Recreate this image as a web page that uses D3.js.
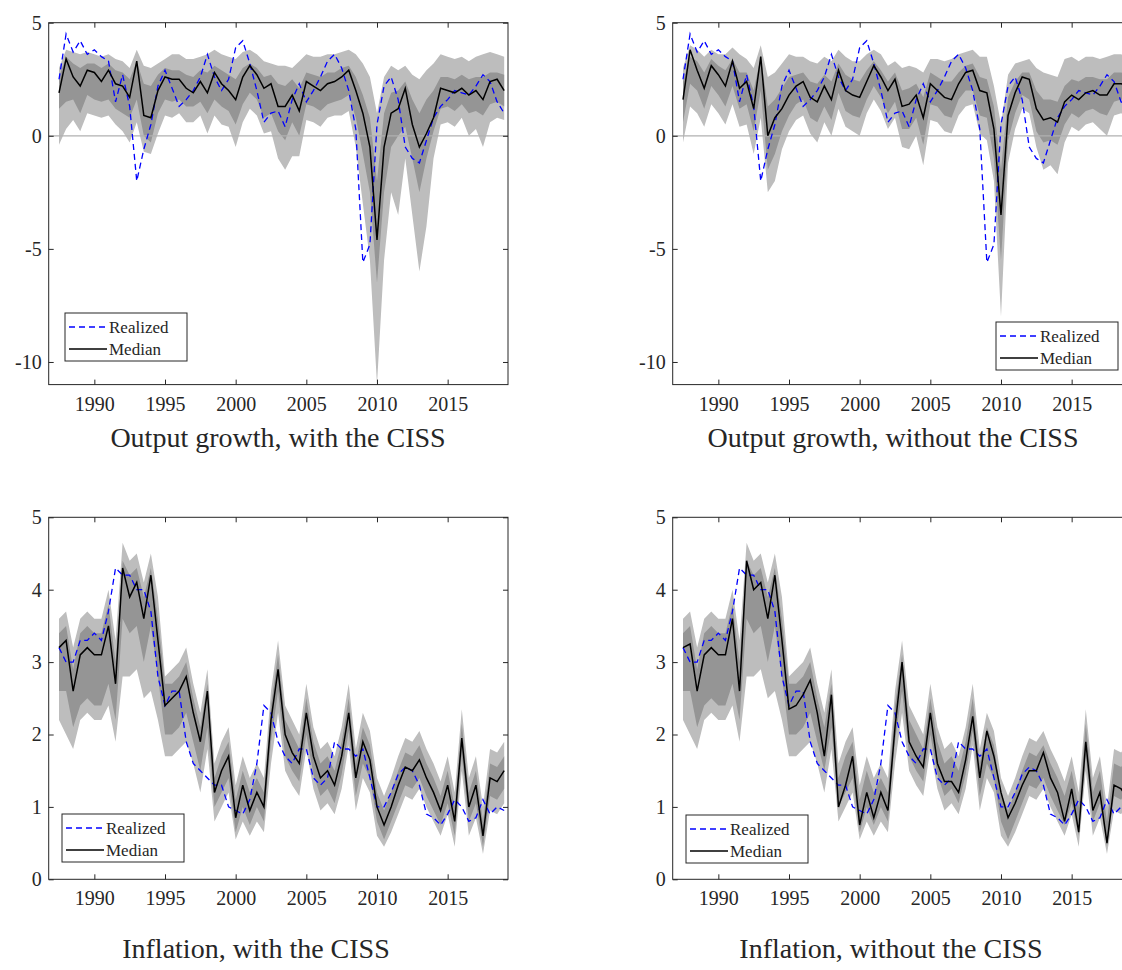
<!DOCTYPE html>
<html>
<head>
<meta charset="utf-8">
<script src="https://cdn.jsdelivr.net/npm/d3@7"></script>
<style>
  body { margin: 0; background: #fff; }
  svg { display: block; }
  text { font-family: "Liberation Serif", "Times New Roman", serif; fill: #262626; }
  .tick text { font-family: "Liberation Serif", serif !important; font-size: 20px !important; }
</style>
</head>
<body>
<svg id="chart" width="1122" height="970"></svg>
<script>
"use strict";

// ---- data (half-yearly, starting 1987.5) ----
const startYear = 1987.5;
const xTicks = [1990, 1995, 2000, 2005, 2010, 2015];

const gdpRealized = [2.5,4.5,3.7,4.2,3.6,3.8,3.5,3.3,1.5,2.7, 1.3,-2.0,-0.6,0.5,2.2,2.9,2.1,1.3,1.6,2.0,
  2.6,3.6,2.6,2.0,2.5,3.9,4.2,3.2,2.0,0.6, 1.0,1.1,0.4,1.6,2.3,1.5,2.0,2.6,3.3,3.6,
  3.0,2.0,0.3,-5.6,-4.8,0.5,2.2,2.6,1.6,-0.5, -1.0,-1.2,-0.2,0.8,1.3,1.6,2.0,1.9,1.8,2.2, 2.7,2.4,1.5,1.0];

const gdpMedianCiss = [1.9,3.4,2.6,2.2,2.9,2.8,2.4,2.9,2.3,2.2, 1.7,3.3,0.9,0.8,2.0,2.6,2.5,2.5,2.1,1.9,
  2.4,1.9,2.8,2.3,2.0,1.6,2.6,3.1,2.7,2.1, 2.3,1.3,1.3,1.8,1.1,2.4,2.2,2.0,2.3,2.4,
  2.6,2.9,2.0,1.0,-0.5,-4.6,-0.5,1.0,1.2,2.1, 0.5,-0.5,0.1,0.8,2.1,2.0,1.9,2.1,1.8,2.0, 1.6,2.4,2.5,2.0];
const gdpOuterHiCiss = [3.0,3.8,3.7,3.6,3.7,3.6,3.5,3.6,3.4,3.3, 3.0,3.8,3.1,3.0,3.2,3.4,3.6,3.6,3.4,3.4,
  3.5,3.6,3.8,3.6,3.5,3.4,3.7,3.8,3.6,3.3, 3.2,3.1,3.1,3.0,3.3,3.6,3.5,3.5,3.6,3.6,
  3.7,3.8,3.6,3.2,2.6,1.0,2.6,3.1,2.9,3.1, 2.7,2.5,2.9,3.2,3.6,3.5,3.4,3.5,3.3,3.5, 3.6,3.7,3.6,3.5];
const gdpInnerHiCiss = [2.6,3.5,3.2,3.0,3.2,3.2,3.0,3.2,2.9,2.8, 2.5,3.3,2.3,2.2,2.7,3.0,2.9,2.9,2.7,2.6,
  2.9,2.8,3.1,2.9,2.7,2.5,3.0,3.2,3.0,2.6, 2.7,2.3,2.2,2.5,2.1,2.8,2.7,2.6,2.8,2.8,
  3.0,3.1,2.6,1.8,0.8,-2.0,1.0,1.9,2.0,2.4, 1.6,1.0,1.6,2.0,2.6,2.6,2.5,2.7,2.5,2.6, 2.6,2.8,2.8,2.7];
const gdpInnerLoCiss = [1.2,1.5,1.6,1.0,1.8,1.6,1.5,1.6,1.2,1.0, 0.8,1.6,0.0,-0.3,1.0,1.6,1.5,1.6,1.3,1.3,
  1.5,1.0,1.6,1.3,1.1,0.5,1.4,1.9,1.6,0.8, 1.0,0.2,-0.2,0.6,0.0,1.4,1.3,1.1,1.4,1.5,
  1.6,1.8,0.8,-0.8,-2.5,-6.5,-2.5,-0.5,0.0,0.4, -1.0,-2.5,-1.0,0.2,1.2,1.3,1.1,1.4,1.0,1.1, 0.9,1.4,1.5,1.3];
const gdpOuterLoCiss = [-0.4,0.3,0.7,0.2,1.0,0.9,0.8,0.9,0.5,0.2, -0.3,0.6,-0.7,-0.8,0.1,0.9,0.8,1.0,0.6,0.6,
  0.9,0.1,0.9,0.5,0.4,-0.5,0.6,1.2,0.9,0.1, 0.2,-1.0,-1.5,-0.9,-0.9,0.7,0.6,0.4,0.8,0.9,
  0.9,1.1,-0.5,-3.0,-5.5,-11.0,-5.5,-2.5,-3.5,-1.0, -3.5,-6.0,-4.0,-1.0,0.5,0.6,0.4,0.8,0.0,0.3, -0.5,0.6,0.8,0.7];

const gdpMedianNo = [1.6,3.8,2.9,2.1,3.1,2.7,2.2,3.3,2.1,2.4, 1.2,3.5,0.0,0.8,1.2,1.8,2.2,2.4,1.7,1.5,
  2.2,1.6,2.9,2.0,1.8,1.7,2.4,3.1,2.6,2.0, 2.5,1.3,1.4,1.8,0.8,2.3,2.0,1.7,1.6,2.3,
  2.8,2.9,2.0,1.9,0.3,-3.5,0.9,1.9,2.6,2.5, 1.2,0.7,0.8,0.6,1.5,1.8,1.6,1.9,2.0,1.8, 1.8,2.3,2.3,2.2];
const gdpOuterHiNo = [3.0,4.0,3.8,3.5,3.8,3.6,3.6,3.9,3.6,3.4, 3.0,4.0,2.6,2.8,3.2,3.6,3.5,3.5,3.3,3.2,
  3.5,3.3,3.8,3.5,3.3,3.3,3.6,3.8,3.6,3.1, 3.3,3.0,3.1,3.0,2.8,3.4,3.4,3.3,3.4,3.6,
  3.7,3.8,3.5,3.5,2.2,0.5,2.7,3.2,3.3,3.4, 3.0,2.8,2.7,2.6,3.4,3.5,3.3,3.5,3.5,3.4, 3.5,3.6,3.6,3.5];
const gdpInnerHiNo = [2.4,3.5,3.3,2.8,3.4,3.1,2.9,3.4,2.8,2.8, 2.0,3.5,1.3,1.6,2.1,2.6,2.7,2.8,2.4,2.3,
  2.7,2.4,3.2,2.7,2.5,2.4,2.9,3.3,2.9,2.4, 2.8,2.0,2.1,2.3,1.7,2.8,2.6,2.4,2.4,2.8,
  3.1,3.2,2.6,2.5,1.3,-1.5,1.7,2.4,2.8,2.8, 2.0,1.6,1.6,1.5,2.2,2.5,2.4,2.6,2.6,2.5, 2.5,2.8,2.8,2.7];
const gdpInnerLoNo = [0.6,2.3,2.0,1.2,2.2,1.8,1.3,2.2,1.2,1.4, 0.2,2.0,-1.5,-0.8,0.2,0.9,1.4,1.6,0.8,0.6,
  1.3,0.7,1.9,1.1,0.9,0.8,1.6,2.2,1.7,1.0, 1.5,0.3,0.3,0.8,-0.4,1.4,1.3,0.9,0.8,1.6,
  2.0,2.0,0.9,0.8,-1.0,-5.5,-0.2,1.0,1.8,1.6, 0.2,-0.3,-0.2,-0.4,0.5,1.0,0.8,1.1,1.2,1.0, 0.9,1.5,1.6,1.5];
const gdpOuterLoNo = [-0.3,1.3,1.0,0.4,1.4,1.0,0.5,1.4,0.4,0.5, -0.8,0.8,-2.5,-2.0,-0.6,0.2,0.7,0.9,0.1,-0.3,
  0.6,0.0,1.2,0.4,0.2,0.0,1.0,1.6,1.1,0.3, 0.8,-0.5,-0.6,0.0,-1.3,0.7,0.6,0.2,0.1,0.9,
  1.3,1.4,0.1,-0.2,-2.0,-8.0,-1.2,0.3,1.2,1.0, -0.5,-1.5,-1.3,-1.7,-0.3,0.4,0.2,0.5,0.6,0.3, 0.0,0.9,1.0,0.8];

const infRealized = [3.2,3.0,3.0,3.3,3.3,3.4,3.3,3.7,4.3,4.2, 4.2,4.0,4.0,3.7,2.8,2.4,2.6,2.6,1.9,1.6,
  1.5,1.4,1.3,1.3,1.0,0.95,0.9,1.1,1.6,2.4, 2.3,1.9,1.7,1.6,1.8,1.8,1.4,1.3,1.4,1.9,
  1.8,1.8,1.7,1.8,1.4,1.0,1.0,1.2,1.45,1.55, 1.5,1.3,0.9,0.85,0.75,0.9,1.1,1.0,0.8,0.85, 1.1,0.9,1.0,0.95];

const infMedianCiss = [3.2,3.3,2.6,3.1,3.2,3.1,3.1,3.5,2.7,4.3, 3.9,4.1,3.6,4.2,3.3,2.4,2.5,2.6,2.8,2.3,
  1.9,2.6,1.2,1.5,1.7,0.85,1.3,0.95,1.2,1.0, 2.2,2.9,2.0,1.75,1.6,2.3,1.7,1.4,1.5,1.3,
  1.7,2.3,1.4,1.9,1.65,1.0,0.75,1.0,1.3,1.55, 1.5,1.65,1.4,1.2,0.95,1.3,0.8,1.95,1.0,1.3, 0.6,1.4,1.35,1.5];
const infOuterHi = [3.6,3.7,3.2,3.6,3.7,3.6,3.6,4.0,3.3,4.65, 4.4,4.5,4.1,4.5,3.9,2.8,2.9,3.0,3.2,2.7,
  2.3,2.9,1.6,1.9,2.1,1.3,1.7,1.4,1.6,1.4, 2.6,3.3,2.4,2.2,2.0,2.7,2.1,1.8,1.9,1.7,
  2.1,2.7,1.8,2.3,2.05,1.4,1.15,1.4,1.7,1.95, 1.9,2.05,1.8,1.6,1.35,1.7,1.2,2.35,1.4,1.7, 1.0,1.8,1.75,1.9];
const infInnerHi = [3.4,3.5,2.9,3.4,3.5,3.4,3.4,3.8,3.0,4.4, 4.2,4.3,3.9,4.3,3.6,2.7,2.7,2.8,3.0,2.5,
  2.1,2.7,1.4,1.7,1.9,1.1,1.5,1.2,1.4,1.2, 2.4,3.1,2.2,2.0,1.8,2.5,1.9,1.6,1.7,1.5,
  1.9,2.5,1.6,2.1,1.85,1.2,0.95,1.2,1.5,1.75, 1.7,1.85,1.6,1.4,1.15,1.5,1.0,2.15,1.2,1.5, 0.8,1.6,1.55,1.7];
const infInnerLo = [2.6,2.6,2.1,2.4,2.5,2.4,2.4,2.7,2.2,3.6, 3.4,3.5,3.0,3.5,2.8,2.0,2.0,2.1,2.3,1.9,
  1.5,2.1,1.0,1.2,1.4,0.65,1.0,0.75,1.0,0.8, 1.9,2.6,1.7,1.5,1.35,2.0,1.45,1.15,1.25,1.05,
  1.45,2.05,1.15,1.6,1.4,0.8,0.55,0.8,1.05,1.3, 1.25,1.4,1.15,0.95,0.75,1.05,0.6,1.7,0.8,1.05, 0.45,1.15,1.1,1.25];
const infOuterLo = [2.2,2.0,1.8,2.2,2.3,2.2,2.2,2.4,1.9,2.8, 2.8,2.9,2.5,2.6,2.2,1.7,1.7,1.8,1.9,1.6,
  1.2,1.8,0.8,1.0,1.2,0.55,0.8,0.6,0.8,0.65, 1.6,2.3,1.5,1.3,1.15,1.8,1.25,0.95,1.05,0.9,
  1.25,1.85,0.95,1.4,1.2,0.6,0.45,0.65,0.9,1.15, 1.1,1.25,1.0,0.8,0.6,0.9,0.45,1.5,0.6,0.85, 0.35,0.95,0.9,1.05];

const infMedianNo = [3.2,3.25,2.6,3.1,3.2,3.1,3.1,3.6,2.6,4.4, 4.0,4.1,3.6,4.2,3.3,2.35,2.4,2.55,2.75,2.3,
  1.7,2.55,1.0,1.3,1.7,0.75,1.2,0.85,1.2,0.95, 2.1,3.0,1.9,1.7,1.55,2.3,1.6,1.35,1.35,1.2,
  1.65,2.25,1.4,2.05,1.7,1.2,0.85,1.05,1.3,1.5, 1.5,1.75,1.4,1.2,0.8,1.25,0.65,1.9,0.95,1.2, 0.5,1.3,1.25,1.1];

// ---- layout ----
const svg = d3.select("#chart");
const colX = [[48.7, 508], [672.7, 1132]];
const rowY = [[22.7, 384.6], [517.3, 879.3]];
const serif = "'Liberation Serif', 'Times New Roman', serif";

const panels = [
  { col: 0, row: 0, domain: [-11, 5], yTicks: [-10, -5, 0, 5], zero: true,
    realized: gdpRealized, median: gdpMedianCiss,
    bands: [gdpOuterLoCiss, gdpOuterHiCiss, gdpInnerLoCiss, gdpInnerHiCiss],
    title: "Output growth, with the CISS", titleX: 278, titleY: 447,
    legend: [65, 313] },
  { col: 1, row: 0, domain: [-11, 5], yTicks: [-10, -5, 0, 5], zero: true,
    realized: gdpRealized, median: gdpMedianNo,
    bands: [gdpOuterLoNo, gdpOuterHiNo, gdpInnerLoNo, gdpInnerHiNo],
    title: "Output growth, without the CISS", titleX: 893, titleY: 447,
    legend: [996, 322] },
  { col: 0, row: 1, domain: [0, 5], yTicks: [0, 1, 2, 3, 4, 5], zero: false,
    realized: infRealized, median: infMedianCiss,
    bands: [infOuterLo, infOuterHi, infInnerLo, infInnerHi],
    title: "Inflation, with the CISS", titleX: 256, titleY: 958,
    legend: [62, 814] },
  { col: 1, row: 1, domain: [0, 5], yTicks: [0, 1, 2, 3, 4, 5], zero: false,
    realized: infRealized, median: infMedianNo,
    bands: [infOuterLo, infOuterHi, infInnerLo, infInnerHi],
    title: "Inflation, without the CISS", titleX: 891, titleY: 958,
    legend: [686, 815] },
];

panels.forEach((p, i) => drawPanel(p, i));

function drawPanel(p, i) {
  const [x0, x1] = colX[p.col];
  const [y0, y1] = rowY[p.row];
  const x = d3.scaleLinear().domain([1986.77, 2019.27]).range([x0, x1]);
  const y = d3.scaleLinear().domain(p.domain).range([y1, y0]);
  const t = (d, k) => startYear + 0.5 * k;

  const clipId = "clip" + i;
  svg.append("clipPath").attr("id", clipId)
    .append("rect").attr("x", x0).attr("y", y0).attr("width", x1 - x0).attr("height", y1 - y0);
  const g = svg.append("g").attr("clip-path", `url(#${clipId})`);

  const [oLo, oHi, iLo, iHi] = p.bands;
  const area = (lo, hi) => d3.area().x((d, k) => x(t(d, k))).y0((d, k) => y(lo[k])).y1((d, k) => y(hi[k]));
  g.append("path").datum(oLo).attr("d", area(oLo, oHi)).attr("fill", "#bdbdbd");
  g.append("path").datum(iLo).attr("d", area(iLo, iHi)).attr("fill", "#959595");

  if (p.zero) {
    g.append("line").attr("x1", x0).attr("x2", x1).attr("y1", y(0)).attr("y2", y(0))
      .attr("stroke", "#b0b0b0").attr("stroke-width", 1.2);
  }

  const line = d3.line().x((d, k) => x(t(d, k))).y((d) => y(d));
  g.append("path").datum(p.realized).attr("d", line).attr("fill", "none")
    .attr("stroke", "#0000ff").attr("stroke-width", 1.3).attr("stroke-dasharray", "6,4");
  g.append("path").datum(p.median).attr("d", line).attr("fill", "none")
    .attr("stroke", "#000").attr("stroke-width", 1.5);

  // axes: box with inward ticks
  const ax = svg.append("g");
  ax.append("rect").attr("x", x0).attr("y", y0).attr("width", x1 - x0).attr("height", y1 - y0)
    .attr("fill", "none").attr("stroke", "#262626").attr("stroke-width", 1);
  const fmt = (d) => String(d);
  ax.append("g").attr("transform", `translate(0,${y1})`)
    .call(d3.axisBottom(x).tickValues(xTicks).tickFormat(fmt).tickSizeInner(-5).tickSizeOuter(0).tickPadding(12));
  ax.append("g").attr("transform", `translate(0,${y0})`)
    .call(d3.axisTop(x).tickValues(xTicks).tickFormat("").tickSizeInner(-5).tickSizeOuter(0));
  ax.append("g").attr("transform", `translate(${x0},0)`)
    .call(d3.axisLeft(y).tickValues(p.yTicks).tickFormat(fmt).tickSizeInner(-5).tickSizeOuter(0).tickPadding(7));
  ax.append("g").attr("transform", `translate(${x1},0)`)
    .call(d3.axisRight(y).tickValues(p.yTicks).tickFormat("").tickSizeInner(-5).tickSizeOuter(0));
  ax.selectAll(".domain").remove();
  ax.selectAll(".tick line").attr("stroke", "#262626");
  ax.selectAll(".tick text").attr("fill", "#262626");

  // title
  svg.append("text").attr("x", p.titleX).attr("y", p.titleY).attr("text-anchor", "middle")
    .attr("font-family", serif).attr("font-size", 28).attr("fill", "#000").text(p.title);

  // legend
  const [lx, ly] = p.legend;
  const lg = svg.append("g").attr("transform", `translate(${lx},${ly})`)
    .attr("font-family", serif).attr("font-size", 17);
  lg.append("rect").attr("width", 122).attr("height", 48).attr("fill", "#fff").attr("stroke", "#262626");
  lg.append("line").attr("x1", 4).attr("x2", 42).attr("y1", 14).attr("y2", 14)
    .attr("stroke", "#0000ff").attr("stroke-width", 1.3).attr("stroke-dasharray", "6,4");
  lg.append("line").attr("x1", 4).attr("x2", 42).attr("y1", 36).attr("y2", 36)
    .attr("stroke", "#000").attr("stroke-width", 1.5);
  lg.append("text").attr("x", 44).attr("y", 20).attr("fill", "#000").text("Realized");
  lg.append("text").attr("x", 44).attr("y", 42).attr("fill", "#000").text("Median");
}
</script>
</body>
</html>
